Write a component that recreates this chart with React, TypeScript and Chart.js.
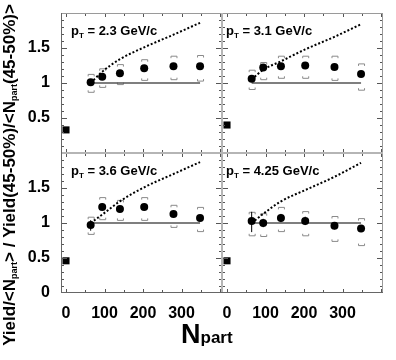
import React, { useEffect, useRef } from 'react';
import { Chart, registerables } from 'chart.js';
Chart.register(...registerables);

// ---- data ----
const npart = [64, 94, 140, 203, 279, 348];
const ptLabels = ['2.3', '3.1', '3.6', '4.25'];

const ratio23 = [1.01, 1.09, 1.14, 1.21, 1.24, 1.24];
const statLo23 = [0.99, 1.07, 1.12, 1.19, 1.22, 1.22];
const statHi23 = [1.03, 1.11, 1.16, 1.23, 1.26, 1.26];
const sysLo23 = [0.86, 0.93, 0.97, 1.03, 1.04, 1.02];
const sysHi23 = [1.13, 1.21, 1.27, 1.34, 1.39, 1.40];
const curve23 = [1.0, 1.16, 1.34, 1.51, 1.69, 1.86];

const ratio31 = [1.06, 1.22, 1.24, 1.25, 1.23, 1.13];
const statLo31 = [1.03, 1.19, 1.21, 1.22, 1.20, 1.10];
const statHi31 = [1.09, 1.25, 1.27, 1.28, 1.26, 1.16];
const sysLo31 = [0.90, 1.04, 1.06, 1.06, 1.03, 0.89];
const sysHi31 = [1.19, 1.30, 1.39, 1.39, 1.39, 1.28];
const curve31 = [1.05, 1.19, 1.31, 1.48, 1.66, 1.84];

const ratio36 = [0.97, 1.23, 1.20, 1.23, 1.13, 1.07];
const statLo36 = [0.89, 1.18, 1.16, 1.19, 1.09, 1.03];
const statHi36 = [1.04, 1.28, 1.24, 1.27, 1.17, 1.11];
const sysLo36 = [0.83, 1.04, 1.03, 1.03, 0.93, 0.87];
const sysHi36 = [1.09, 1.37, 1.33, 1.37, 1.26, 1.23];
const curve36 = [1.0, 1.12, 1.31, 1.51, 1.70, 1.87];

const ratio425 = [1.03, 1.00, 1.07, 1.03, 0.96, 0.92];
const statLo425 = [0.87, 0.94, 1.01, 0.97, 0.91, 0.87];
const statHi425 = [1.16, 1.06, 1.13, 1.09, 1.01, 0.97];
const sysLo425 = [0.81, 0.80, 0.87, 0.81, 0.73, 0.67];
const sysHi425 = [1.16, 1.14, 1.23, 1.17, 1.10, 1.07];
const curve425 = [1.0, 1.13, 1.31, 1.47, 1.66, 1.86];

const normNpart = 0;
const normUnc = [0.33, 0.40, 0.46, 0.46];
const refLevel = 1;

const xTicks = [0, 100, 200, 300];
const yTicksTop = [0.5, 1, 1.5];
const yTicksBottom = [0, 0.5, 1, 1.5];

const FONT = 'Liberation Sans, Arial, Helvetica, sans-serif';

const panels = [
  { x: 'xL', y: 'yT', pt: ptLabels[0], r: ratio23, sl: statLo23, sh: statHi23, yl: sysLo23, yh: sysHi23, c: curve23, n: normUnc[0], lx: 10 },
  { x: 'xR', y: 'yT', pt: ptLabels[1], r: ratio31, sl: statLo31, sh: statHi31, yl: sysLo31, yh: sysHi31, c: curve31, n: normUnc[1], lx: 4 },
  { x: 'xL', y: 'yB', pt: ptLabels[2], r: ratio36, sl: statLo36, sh: statHi36, yl: sysLo36, yh: sysHi36, c: curve36, n: normUnc[2], lx: 10 },
  { x: 'xR', y: 'yB', pt: ptLabels[3], r: ratio425, sl: statLo425, sh: statHi425, yl: sysLo425, yh: sysHi425, c: curve425, n: normUnc[3], lx: 4 },
];

function drawSegs(ctx: CanvasRenderingContext2D, segs: { t: string; f: string; dy: number }[], x: number, y: number) {
  let cx = x;
  for (const s of segs) {
    ctx.font = s.f;
    ctx.fillText(s.t, cx, y + s.dy);
    cx += ctx.measureText(s.t).width;
  }
  return cx - x;
}
function segsWidth(ctx: CanvasRenderingContext2D, segs: { t: string; f: string; dy: number }[]) {
  let w = 0;
  for (const s of segs) { ctx.font = s.f; w += ctx.measureText(s.t).width; }
  return w;
}

const errPlugin = {
  id: 'errBars',
  beforeDatasetsDraw(chart: any) {
    const ctx = chart.ctx;
    ctx.save();
    for (const p of panels) {
      const xs = chart.scales[p.x];
      const ys = chart.scales[p.y];
      npart.forEach((n, i) => {
        const px = xs.getPixelForValue(n);
        const yt = ys.getPixelForValue(p.yh[i]);
        const yb = ys.getPixelForValue(p.yl[i]);
        ctx.strokeStyle = '#8a8a8a';
        ctx.lineWidth = 1;
        const hw = 3, leg = 2.5;
        ctx.beginPath();
        ctx.moveTo(px - hw + 0.5, yt + leg); ctx.lineTo(px - hw + 0.5, yt + 0.5); ctx.lineTo(px + hw + 0.5, yt + 0.5); ctx.lineTo(px + hw + 0.5, yt + leg);
        ctx.moveTo(px - hw + 0.5, yb - leg); ctx.lineTo(px - hw + 0.5, yb - 0.5); ctx.lineTo(px + hw + 0.5, yb - 0.5); ctx.lineTo(px + hw + 0.5, yb - leg);
        ctx.stroke();
        ctx.strokeStyle = '#000';
        ctx.beginPath();
        ctx.moveTo(px, ys.getPixelForValue(p.sh[i]));
        ctx.lineTo(px, ys.getPixelForValue(p.sl[i]));
        ctx.stroke();
      });
    }
    ctx.restore();
  },
};

const framePlugin = {
  id: 'frames',
  afterDraw(chart: any) {
    const ctx = chart.ctx;
    const ca = chart.chartArea;
    ctx.save();
    for (const p of panels) {
      const xs = chart.scales[p.x];
      const ys = chart.scales[p.y];
      const l = xs.left, r = xs.right, t = ys.top, b = ys.bottom;
      ctx.strokeStyle = '#555';
      ctx.lineWidth = 1;
      ctx.beginPath();
      for (let i = 1; i < 20; i++) {
        const py = Math.round(ys.getPixelForValue(i / 10)) + 0.5;
        const len = i % 5 === 0 ? 6 : 3;
        ctx.moveTo(l, py); ctx.lineTo(l + len, py);
        ctx.moveTo(r, py); ctx.lineTo(r - len, py);
      }
      for (let v = 0; v <= 400; v += 50) {
        const px = Math.round(xs.getPixelForValue(v)) + 0.5;
        const len = v % 100 === 0 ? 4 : 3;
        ctx.moveTo(px, b); ctx.lineTo(px, b - len);
        ctx.moveTo(px, t); ctx.lineTo(px, t + len);
      }
      ctx.stroke();
      ctx.strokeStyle = '#9a9a9a';
      ctx.strokeRect(Math.round(l) + 0.5, Math.round(t) + 0.5, Math.round(r - l) - 1, Math.round(b - t) - 1);
      // panel label
      ctx.fillStyle = '#000';
      ctx.textBaseline = 'alphabetic';
      drawSegs(ctx, [
        { t: 'p', f: `bold 13px ${FONT}`, dy: 0 },
        { t: 'T', f: `bold 8px ${FONT}`, dy: 3 },
        { t: ' = ' + p.pt + ' GeV/c', f: `bold 13px ${FONT}`, dy: 0 },
      ], l + p.lx, t + 22);
    }
    // dividers
    const yT = chart.scales.yT, xL = chart.scales.xL;
    ctx.strokeStyle = '#b5b5b5';
    ctx.lineWidth = 2;
    ctx.beginPath();
    ctx.moveTo(ca.left, yT.bottom); ctx.lineTo(ca.right, yT.bottom);
    ctx.moveTo(xL.right, ca.top); ctx.lineTo(xL.right, ca.bottom);
    ctx.stroke();
    ctx.strokeStyle = '#666';
    ctx.lineWidth = 1;
    ctx.beginPath();
    ctx.moveTo(Math.round(ca.left) + 0.5, ca.top); ctx.lineTo(Math.round(ca.left) + 0.5, ca.bottom);
    ctx.moveTo(ca.left, Math.round(ca.bottom) - 0.5); ctx.lineTo(ca.right, Math.round(ca.bottom) - 0.5);
    ctx.stroke();

    // axis titles
    ctx.fillStyle = '#000';
    const main = `bold 17px ${FONT}`;
    const sub = `bold 9px ${FONT}`;
    const ySegs = [
      { t: 'Yield/<N', f: main, dy: 0 },
      { t: 'part', f: sub, dy: 2 },
      { t: '> / Yield(45-50%)/<N', f: main, dy: 0 },
      { t: 'part', f: sub, dy: 2 },
      { t: '(45-50%)>', f: main, dy: 0 },
    ];
    const w = segsWidth(ctx, ySegs);
    ctx.save();
    ctx.translate(15, 175);
    ctx.rotate(-Math.PI / 2);
    drawSegs(ctx, ySegs, -w / 2, 0);
    ctx.restore();

    drawSegs(ctx, [
      { t: 'N', f: `bold 27px ${FONT}`, dy: 0 },
      { t: 'part', f: `bold 17px ${FONT}`, dy: 0 },
    ], 181, 343);
    ctx.restore();
  },
};

export default function App() {
  const ref = useRef<HTMLCanvasElement>(null);
  useEffect(() => {
    if (!ref.current) return;
    const datasets: any[] = [];
    panels.forEach((p) => {
      datasets.push({
        data: npart.map((n, i) => ({ x: n, y: p.r[i] })),
        xAxisID: p.x, yAxisID: p.y,
        pointStyle: 'circle', pointRadius: 4, pointBackgroundColor: '#000', pointBorderColor: '#000', pointBorderWidth: 0,
        showLine: false,
      });
      datasets.push({
        data: [{ x: normNpart, y: p.n }],
        xAxisID: p.x, yAxisID: p.y,
        pointStyle: 'rect', pointRadius: 5, pointBackgroundColor: '#000', pointBorderColor: '#000', pointBorderWidth: 0,
        showLine: false,
      });
    });
    panels.forEach((p) => {
      datasets.push({
        data: npart.map((n, i) => ({ x: n, y: p.c[i] })),
        xAxisID: p.x, yAxisID: p.y,
        showLine: true, pointRadius: 0, borderColor: '#000', borderWidth: 2, borderDash: [2, 2],
        cubicInterpolationMode: 'monotone',
      });
      datasets.push({
        data: [{ x: npart[0], y: refLevel }, { x: npart[npart.length - 1], y: refLevel }],
        xAxisID: p.x, yAxisID: p.y,
        showLine: true, pointRadius: 0, borderColor: '#555', borderWidth: 1.5,
      });
    });
    const xScale = (weight: number) => ({
      type: 'linear', position: 'bottom', stack: 'x', stackWeight: 1, weight,
      min: -13, max: 405,
      grid: { display: false }, border: { display: false },
      afterBuildTicks: (s: any) => { s.ticks = xTicks.map((v) => ({ value: v })); },
      afterFit: (s: any) => { s.height = 30; },
      ticks: { padding: 3, color: '#000', font: { family: FONT, size: 16, weight: 'bold' }, callback: (v: any) => String(v), maxRotation: 0, autoSkip: false },
    });
    const yScale = (weight: number, tv: number[]) => ({
      type: 'linear', position: 'left', stack: 'y', stackWeight: 1, weight,
      min: 0, max: 2,
      grid: { display: false }, border: { display: false },
      afterBuildTicks: (s: any) => { s.ticks = tv.map((v) => ({ value: v })); },
      afterFit: (s: any) => { s.width = 53; },
      ticks: { padding: 3, color: '#000', font: { family: FONT, size: 16, weight: 'bold' }, callback: (v: any) => String(v), autoSkip: false },
    });
    const chart = new Chart(ref.current, {
      type: 'scatter',
      data: { datasets },
      options: {
        animation: false,
        responsive: false,
        devicePixelRatio: 1,
        layout: { padding: { left: 8, right: 13, top: 13, bottom: 37 } },
        plugins: { legend: { display: false }, tooltip: { enabled: false } },
        scales: {
          xL: xScale(0),
          xR: xScale(1),
          yT: yScale(1, yTicksTop),
          yB: yScale(0, yTicksBottom),
        } as any,
      },
      plugins: [errPlugin, framePlugin],
    } as any);
    return () => chart.destroy();
  }, []);
  return (
    <div style={{ position: 'absolute', left: 0, top: 0, width: 396, height: 360, background: '#fff' }}>
      <canvas ref={ref} width={396} height={360} style={{ display: 'block' }} />
    </div>
  );
}
